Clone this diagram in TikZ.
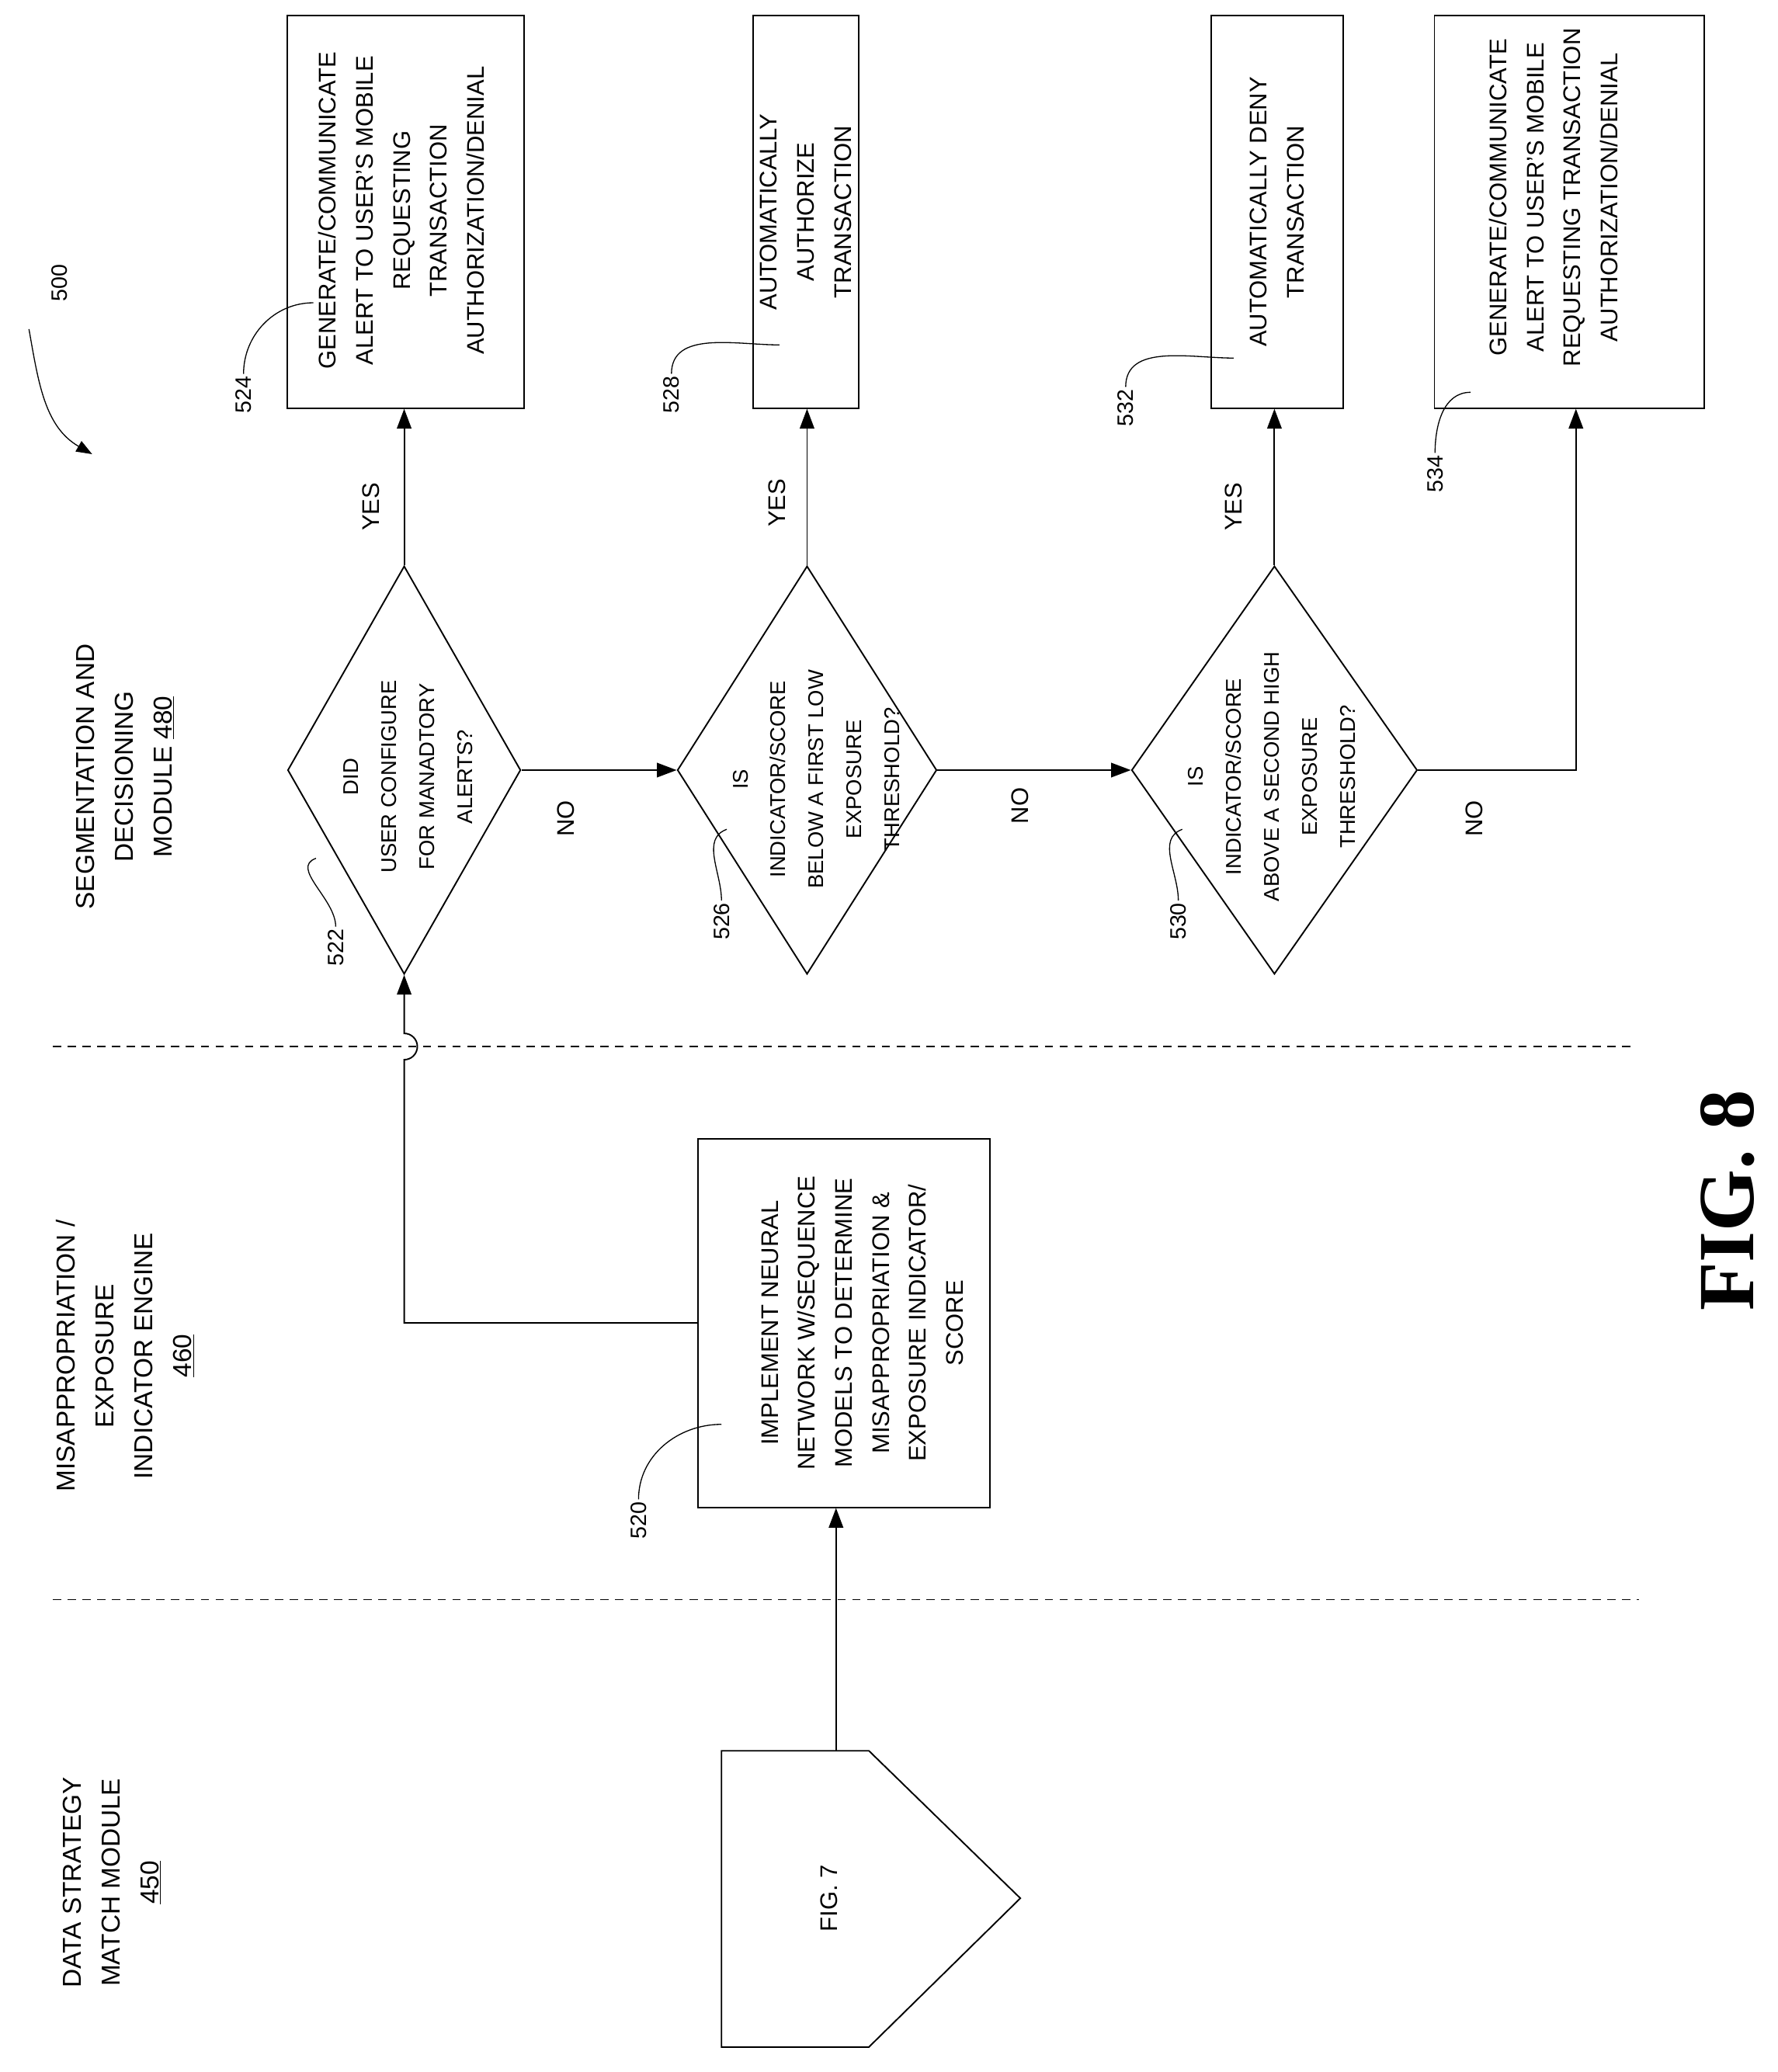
\documentclass[tikz,border=0pt]{standalone}
\usepackage{fontspec}
\setmainfont{Liberation Sans}
\newfontfamily\figfont{Liberation Serif}
\usetikzlibrary{shapes.geometric,arrows.meta}
\begin{document}
\begin{tikzpicture}[x=0.05cm,y=-0.05cm,line width=1.6pt,
  >={Triangle[length=0.75cm,width=0.55cm]},
  box/.style={draw,rectangle,inner sep=0pt},
  dec/.style={draw,diamond,inner sep=0pt},
  txt/.style={rotate=90,align=center,inner sep=0pt,
    font=\fontsize{26}{40}\selectfont},
  dtxt/.style={txt,font=\fontsize{23}{41}\selectfont},
  head/.style={rotate=90,align=center,inner sep=0pt,
    font=\fontsize{28}{42}\selectfont},
  num/.style={rotate=90,inner sep=2pt,font=\fontsize{24}{28}\selectfont},
  lead/.style={line width=1.1pt}]
\useasboundingbox (0,0) rectangle (1350,1574);

% headings
\node[head] (h480) at (95,590) {SEGMENTATION AND\\DECISIONING\\MODULE \underline{480}};
\node[head] (h460) at (95,1030) {MISAPPROPRIATION /\\EXPOSURE\\INDICATOR ENGINE\\\underline{460}};
\node[head] (h450) at (85,1430) {DATA STRATEGY\\MATCH MODULE\\\underline{450}};
\draw[dash pattern=on 9pt off 7pt,line width=1.2pt] (40,795) -- (1240,795);
\draw[dash pattern=on 9pt off 7pt,line width=1.2pt] (40,1215) -- (1245,1215);

% boxes
\node[box,minimum width=180*0.05cm,minimum height=298*0.05cm] (b524) at (308,161) {};
\node[txt] at (305,160) {GENERATE/COMMUNICATE\\ALERT TO USER'S MOBILE\\REQUESTING\\TRANSACTION\\AUTHORIZATION/DENIAL};
\node[box,minimum width=80*0.05cm,minimum height=298*0.05cm] (b528) at (612,161) {};
\node[txt] at (b528) {AUTOMATICALLY\\AUTHORIZE\\TRANSACTION};
\node[box,minimum width=100*0.05cm,minimum height=298*0.05cm] (b532) at (970,161) {};
\node[txt] at (b532) {AUTOMATICALLY DENY\\TRANSACTION};
\node[box,minimum width=205*0.05cm,minimum height=298*0.05cm] (b534) at (1192,161) {};
\node[txt] at (1180,150) {GENERATE/COMMUNICATE\\ALERT TO USER'S MOBILE\\REQUESTING TRANSACTION\\AUTHORIZATION/DENIAL};
\node[box,minimum width=222*0.05cm,minimum height=280*0.05cm] (b520) at (641,1005) {};
\node[txt] at (655,1005) {IMPLEMENT NEURAL\\NETWORK W/SEQUENCE\\MODELS TO DETERMINE\\MISAPPROPRIATION \&\\EXPOSURE INDICATOR/\\SCORE};

% decisions
\node[dec,minimum width=177*0.05cm,minimum height=310*0.05cm] (d522) at (307,585) {};
\node[dtxt] at (310,590) {DID\\USER CONFIGURE\\FOR MANADTORY\\ALERTS?};
\node[dec,minimum width=197*0.05cm,minimum height=310*0.05cm] (d526) at (613,585) {};
\node[dtxt] at (620,592) {IS\\INDICATOR/SCORE\\BELOW A FIRST LOW\\EXPOSURE\\THRESHOLD?};
\node[dec,minimum width=217*0.05cm,minimum height=310*0.05cm] (d530) at (968,585) {};
\node[dtxt] at (966,590) {IS\\INDICATOR/SCORE\\ABOVE A SECOND HIGH\\EXPOSURE\\THRESHOLD?};

% off-page connector
\coordinate (f7top) at (635,1330);
\draw (548,1330) -- (660,1330) -- (775,1442) -- (660,1555) -- (548,1555) -- cycle;
\node[txt] (f7) at (630,1442) {FIG. 7};

% connectors
\draw[->] (f7top) -- (b520.south -| f7top);
\draw[->] (b520.west) -| (307,805) arc[start angle=-90,end angle=90,radius=10*0.05cm] -- (d522.south);
\draw[->] (d522.north) -- (b524.south -| d522.north);
\draw[->] (d522.east) -- (d526.west);
\draw[->] (d526.north) -- (b528.south -| d526.north);
\draw[->] (d526.east) -- (d530.west);
\draw[->] (d530.north) -- (b532.south -| d530.north);
\draw[->] (d530.east) -| (b534.south -| 1197,0);
\node[txt] (y1) at (282,385) {YES};
\node[txt] (y2) at (590,382) {YES};
\node[txt] (y3) at (937,385) {YES};
\node[txt] (n1) at (430,622) {NO};
\node[txt] (n2) at (775,612) {NO};
\node[txt] (n3) at (1120,622) {NO};

% reference numbers
\node[num] (r500) at (45,215) {500};
\draw[lead,->,>={Triangle[length=0.6cm,width=0.45cm]}] (22,250) to[out=-80,in=150] (70,345);
\node[num] (r524) at (185,300) {524};
\draw[lead] (r524.east) to[out=90,in=180] (238,230);
\node[num] (r528) at (510,300) {528};
\draw[lead] (r528.east) to[out=90,in=180] (592,262);
\node[num] (r532) at (855,310) {532};
\draw[lead] (r532.east) to[out=90,in=180] (937,272);
\node[num] (r534) at (1090,360) {534};
\draw[lead] (r534.east) to[out=90,in=180] (1117,298);
\node[num] (r522) at (255,720) {522};
\draw[lead] (r522.east) to[out=90,in=200] (240,652);
\node[num] (r526) at (548,700) {526};
\draw[lead] (r526.east) to[out=90,in=200] (552,630);
\node[num] (r530) at (895,700) {530};
\draw[lead] (r530.east) to[out=90,in=200] (898,630);
\node[num] (r520) at (485,1155) {520};
\draw[lead] (r520.east) to[out=90,in=180] (548,1082);

\node[rotate=90,inner sep=0pt,font=\figfont\bfseries\fontsize{86}{90}\selectfont] (fig) at (1312,912) {FIG. 8};
\end{tikzpicture}
\end{document}
